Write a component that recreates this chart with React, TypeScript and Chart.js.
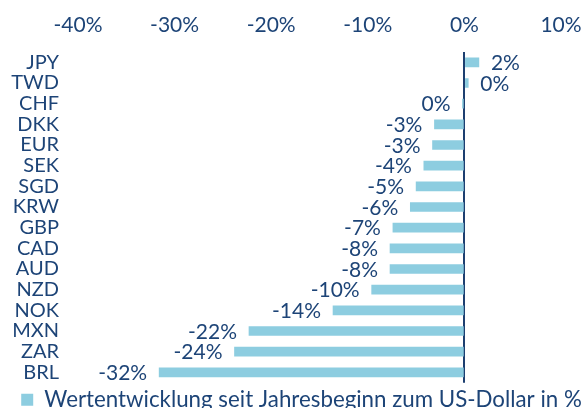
import React, { useEffect, useRef } from "react";
import { Chart, registerables } from "chart.js";

Chart.register(...registerables);

const categories = ["JPY", "TWD", "CHF", "DKK", "EUR", "SEK", "SGD", "KRW", "GBP", "CAD", "AUD", "NZD", "NOK", "MXN", "ZAR", "BRL"];
const values = [1.5, 0.4, -0.2, -3.1, -3.3, -4.2, -5.0, -5.6, -7.4, -7.7, -7.7, -9.6, -13.6, -22.3, -23.8, -31.6];
const seriesLabel = "Wertentwicklung seit Jahresbeginn zum US-Dollar in %";
const xMin = -40;
const xMax = 10;
const xStep = 10;

const TEXT = "#1d4477";
const BAR = "#8dcde0";
const AXIS = "#1d3f70";
const FONT = "Lato, 'Open Sans', sans-serif";

const labelPlugin = {
  id: "valueLabels",
  afterDatasetsDraw(chart: any) {
    const ctx = chart.ctx;
    const meta = chart.getDatasetMeta(0);
    ctx.save();
    ctx.font = `21px ${FONT}`;
    ctx.fillStyle = TEXT;
    ctx.textBaseline = "middle";
    meta.data.forEach((el: any, i: number) => {
      const v = values[i];
      const r = Math.round(v);
      const txt = `${r === 0 ? 0 : r}%`;
      const left = Math.min(el.x, el.base);
      const right = Math.max(el.x, el.base);
      if (v < 0) {
        ctx.textAlign = "right";
        ctx.fillText(txt, left - 12, el.y + 1);
      } else {
        ctx.textAlign = "left";
        ctx.fillText(txt, right + 12, el.y + 1);
      }
    });
    ctx.restore();
  },
};

const legendShift = {
  id: "legendShift",
  afterLayout(chart: any) {
    const l = chart.legend;
    if (l) {
      l.left += 21;
      l.right += 21;
    }
  },
};

export default function App() {
  const ref = useRef<HTMLCanvasElement | null>(null);
  useEffect(() => {
    if (!ref.current) return;
    const chart = new Chart(ref.current, {
      type: "bar",
      data: {
        labels: categories,
        datasets: [
          {
            label: seriesLabel,
            data: values,
            backgroundColor: BAR,
            borderWidth: 0,
            barThickness: 9,
          },
        ],
      },
      options: {
        indexAxis: "y",
        animation: false,
        responsive: false,
        maintainAspectRatio: false,
        layout: { padding: { left: 0, right: 24, top: 0, bottom: 0 } },
        scales: {
          x: {
            position: "top",
            min: xMin,
            max: xMax,
            border: { display: false },
            grid: {
              drawTicks: true,
              tickLength: 14,
              tickColor: "rgba(0,0,0,0)",
              color: (c: any) => (c.tick && c.tick.value === 0 ? AXIS : "rgba(0,0,0,0)"),
              lineWidth: 2,
            },
            ticks: {
              stepSize: xStep,
              color: TEXT,
              font: { family: FONT, size: 21 },
              padding: 0,
              callback: (v: any) => `${v}%`,
            },
            afterFit: (s: any) => {
              s.height = 52;
            },
          },
          y: {
            border: { display: false },
            grid: { display: false, drawTicks: false },
            ticks: {
              color: TEXT,
              font: { family: FONT, size: 20 },
              padding: 19,
              autoSkip: false,
            },
            afterFit: (s: any) => {
              s.width = 78;
            },
          },
        },
        plugins: {
          tooltip: { enabled: false },
          legend: {
            position: "bottom",
            labels: {
              color: TEXT,
              font: { family: FONT, size: 22.3 },
              boxWidth: 12,
              boxHeight: 12,
              padding: 6,
            },
          },
        },
      },
      plugins: [labelPlugin, legendShift],
    });
    return () => chart.destroy();
  }, []);
  return (
    <div style={{ position: "fixed", left: 0, top: 0, width: 585, height: 408, overflow: "hidden", background: "#fff" }}>
      <canvas ref={ref} width={585} height={421} style={{ display: "block" }} />
    </div>
  );
}
